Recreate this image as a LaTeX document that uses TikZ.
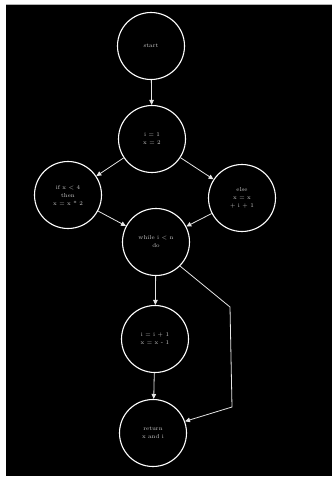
\documentclass[tikz,border=0pt]{standalone}
\usetikzlibrary{arrows.meta}
\begin{document}
\begin{tikzpicture}[x=1pt,y=-1pt,
  state/.style={circle,draw=white,line width=1.1pt,minimum size=67pt,inner sep=0pt,
    text=white!80!black,font=\fontsize{5.8}{8}\selectfont,align=center},
  flow/.style={draw=white!90!black,line width=0.8pt,-{Triangle[length=5pt,width=4.5pt]}}]
\useasboundingbox (0,0) rectangle (332,477);
\fill[white] (0,0) rectangle (332,477);
\fill[black] (6,4) rectangle (332,476);
\draw[gray!60,line width=0.6pt] (6,4) -- (332,4);
\node[state] (c1) at (151,46) {start};
\node[state] (c2) at (152,139) {i = 1\\ x = 2};
\node[state] (c3) at (68,195) {if x \textless{} 4\\ then\\ x = x * 2};
\node[state] (c4) at (242,198) {else\\ x = x\\ + i + 1};
\node[state] (c5) at (156,242) {while i \textless{} n\\ do};
\node[state] (c6) at (155,339) {i = i + 1\\ x = x - 1};
\node[state] (c7) at (153,433) {return\\ x and i};
\coordinate (b1) at (230,307);
\coordinate (b2) at (232,407);
\draw[flow] (c1) -- (c2);
\draw[flow] (c2) -- (c3);
\draw[flow] (c2) -- (c4);
\draw[flow] (c3) -- (c5);
\draw[flow] (c4) -- (c5);
\draw[flow] (c5) -- (c6);
\draw[flow] (c6) -- (c7);
\draw[flow] (c5.-45) -- (b1) -- (b2) -- (c7.20);
\end{tikzpicture}
\end{document}
